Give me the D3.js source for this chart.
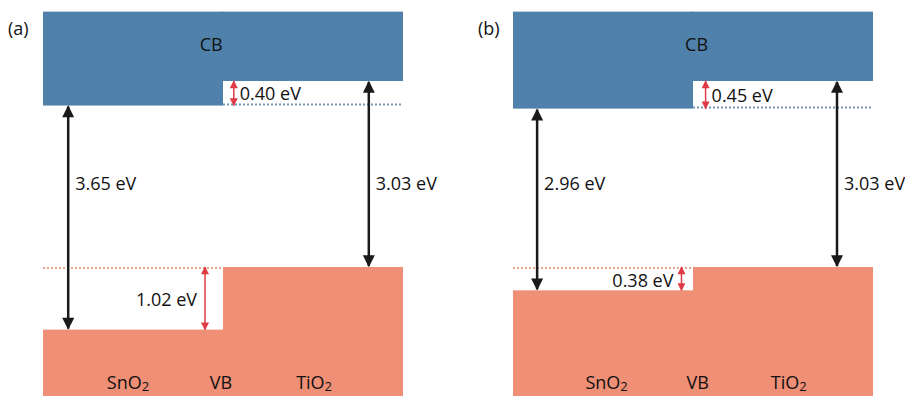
<!DOCTYPE html>
<html>
<head>
<meta charset="utf-8">
<script src="https://cdn.jsdelivr.net/npm/d3@7"></script>
<style>
  body { margin: 0; background: #fff; }
  text { font-family: "Open Sans", "Noto Sans", sans-serif; font-size: 18px; fill: #111; }
</style>
</head>
<body>
<svg id="chart" width="905" height="396"></svg>
<script>
// band energies in eV, TiO2 conduction band edge taken as 0
const panelLabels = ["(a)", "(b)"];
const tio2Gap = [3.03, 3.03];
const sno2Gap = [3.65, 2.96];
const cbOffset = [0.40, 0.45];
const vbOffset = [1.02, 0.38];
const materials = ["SnO₂", "VB", "TiO₂"];

const W = 905, H = 396;
const blue = '#5081ab', salmon = '#ee8f76', red = '#e03a45';

const svg = d3.select('#chart');
const defs = svg.append('defs');

function marker(id, color, w, h) {
    defs.append('marker')
        .attr('id', id)
        .attr('viewBox', '0 0 10 10')
        .attr('refX', 9).attr('refY', 5)
        .attr('markerUnits', 'userSpaceOnUse')
        .attr('markerWidth', w).attr('markerHeight', h)
        .attr('orient', 'auto-start-reverse')
        .append('path')
        .attr('d', 'M0,0 L10,5 L0,10 z')
        .attr('fill', color);
}
marker('blackHead', '#1a1a1a', 15, 12);
marker('redHead', red, 11, 8);

// energy -> pixel
const y = d3.scaleLinear().domain([0, -3.03]).range([81, 267]);
const bandTop = 1.13;
const bandBottom = y.invert(H + 5);

const panelX = [43, 513];
const panelW = 360;

panelLabels.forEach((label, i) => {
    const x = d3.scaleLinear().domain([0, 1]).range([panelX[i], panelX[i] + panelW]);
    const g = svg.append('g');

    const tiCB = 0, tiVB = -tio2Gap[i];
    const snCB = -cbOffset[i], snVB = snCB - sno2Gap[i];

    // conduction bands
    g.append('rect')
        .attr('x', x(0)).attr('y', y(bandTop))
        .attr('width', x(0.5) - x(0)).attr('height', y(snCB) - y(bandTop))
        .attr('fill', blue);
    g.append('rect')
        .attr('x', x(0.5) - 1).attr('y', y(bandTop))
        .attr('width', x(1) - x(0.5) + 1).attr('height', y(tiCB) - y(bandTop))
        .attr('fill', blue);

    // valence bands
    g.append('rect')
        .attr('x', x(0)).attr('y', y(snVB))
        .attr('width', x(0.5) - x(0) + 1).attr('height', y(bandBottom) - y(snVB))
        .attr('fill', salmon);
    g.append('rect')
        .attr('x', x(0.5)).attr('y', y(tiVB))
        .attr('width', x(1) - x(0.5)).attr('height', y(bandBottom) - y(tiVB))
        .attr('fill', salmon);

    // dotted reference levels
    g.append('line')
        .attr('x1', x(0.5)).attr('x2', x(1))
        .attr('y1', y(snCB) - 1).attr('y2', y(snCB) - 1)
        .attr('stroke', '#7595b8').attr('stroke-width', 2)
        .attr('stroke-dasharray', '2,2');
    g.append('line')
        .attr('x1', x(0)).attr('x2', x(0.5))
        .attr('y1', y(tiVB) + 1).attr('y2', y(tiVB) + 1)
        .attr('stroke', '#e8a48d').attr('stroke-width', 2)
        .attr('stroke-dasharray', '2,2');

    // band gap arrows
    const gapArrows = [
        { fx: i === 0 ? 0.07 : 0.067, top: snCB, bottom: snVB, label: sno2Gap[i] },
        { fx: i === 0 ? 0.905 : 0.9, top: tiCB, bottom: tiVB, label: tio2Gap[i] }
    ];
    gapArrows.forEach(a => {
        g.append('line')
            .attr('x1', x(a.fx)).attr('x2', x(a.fx))
            .attr('y1', y(a.top) + 1).attr('y2', y(a.bottom) - 1)
            .attr('stroke', '#1a1a1a').attr('stroke-width', 2.5)
            .attr('marker-start', 'url(#blackHead)')
            .attr('marker-end', 'url(#blackHead)');
        g.append('text')
            .attr('x', x(a.fx) + 7).attr('y', y(-1.66))
            .attr('dominant-baseline', 'central')
            .text(a.label.toFixed(2) + ' eV');
    });

    // offset arrows
    const cbx = x(i === 0 ? 0.53 : 0.535);
    g.append('line')
        .attr('x1', cbx).attr('x2', cbx)
        .attr('y1', y(tiCB)).attr('y2', y(snCB))
        .attr('stroke', red).attr('stroke-width', 1.5)
        .attr('marker-start', 'url(#redHead)')
        .attr('marker-end', 'url(#redHead)');
    g.append('text')
        .attr('x', cbx + 6).attr('y', (y(tiCB) + y(snCB)) / 2)
        .attr('dominant-baseline', 'central')
        .text(cbOffset[i].toFixed(2) + ' eV');

    const vbx = x(i === 0 ? 0.45 : 0.468);
    g.append('line')
        .attr('x1', vbx).attr('x2', vbx)
        .attr('y1', y(tiVB)).attr('y2', y(snVB))
        .attr('stroke', red).attr('stroke-width', 1.5)
        .attr('marker-start', 'url(#redHead)')
        .attr('marker-end', 'url(#redHead)');
    g.append('text')
        .attr('x', vbx - 8).attr('y', (y(tiVB) + y(snVB)) / 2 + 1)
        .attr('text-anchor', 'end')
        .attr('dominant-baseline', 'central')
        .text(vbOffset[i].toFixed(2) + ' eV');

    // labels
    g.append('text')
        .attr('x', x(i === 0 ? 0.467 : 0.51)).attr('y', 44)
        .attr('text-anchor', 'middle').attr('dominant-baseline', 'central')
        .text('CB');

    const matX = d3.scalePoint().domain(materials)
        .range([x(i === 0 ? 0.236 : 0.26), x(i === 0 ? 0.753 : 0.766)]);
    materials.forEach(m => {
        const t = g.append('text')
            .attr('x', matX(m)).attr('y', 382)
            .attr('text-anchor', 'middle').attr('dominant-baseline', 'central');
        if (m === 'VB') {
            t.text(m);
        } else {
            t.append('tspan').text(m.slice(0, -1));
            t.append('tspan').attr('font-size', '13px').attr('dy', 4).text('2');
        }
    });

    g.append('text')
        .attr('x', panelX[i] - 35).attr('y', 28)
        .attr('dominant-baseline', 'central')
        .text(label);
});
</script>
</body>
</html>
